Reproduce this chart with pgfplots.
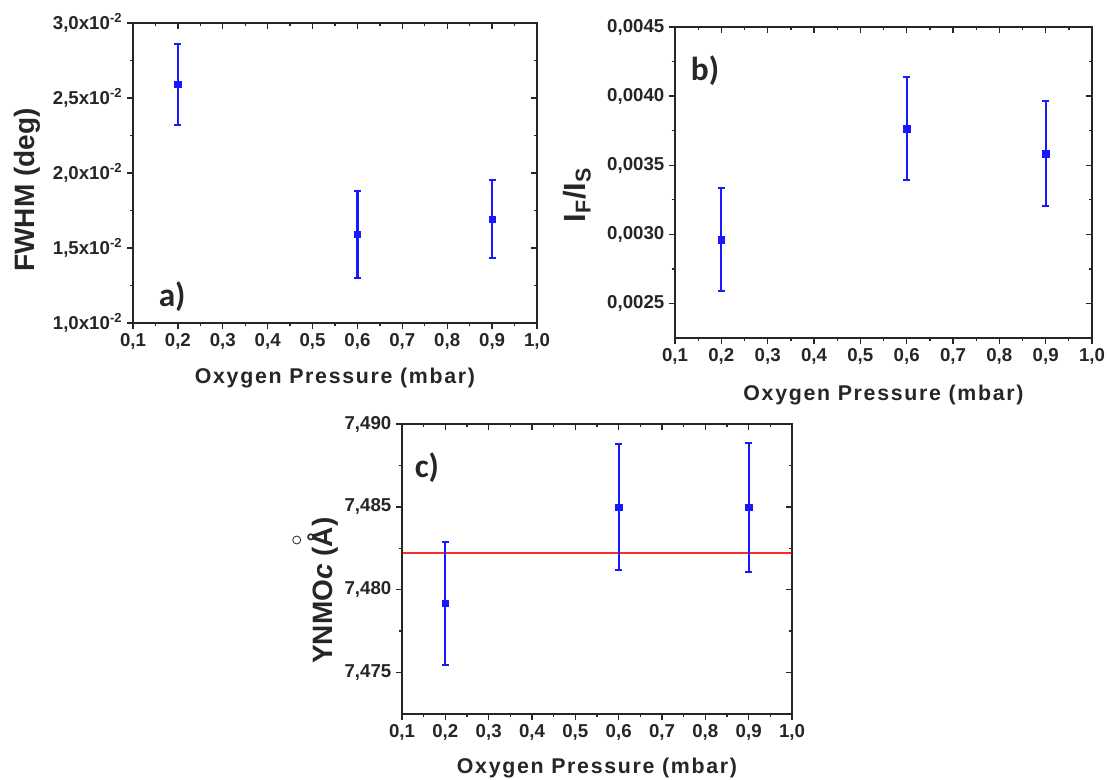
\documentclass[border=0pt]{standalone}
\usepackage{fontspec}
\setmainfont{Liberation Sans}
\newfontfamily\calib{Carlito}
\usepackage{pgfplots}
\pgfplotsset{compat=1.18}
\definecolor{eb}{RGB}{25,25,255}
\definecolor{rl}{RGB}{255,40,40}
\pgfplotsset{
  common/.style={scale only axis, anchor=south west,
    xmin=0.1, xmax=1.0,
    xtick={0.1,0.2,0.3,0.4,0.5,0.6,0.7,0.8,0.9,1.0},
    minor x tick num=1, minor y tick num=1,
    scaled ticks=false,
    major tick length=4.5pt, minor tick length=2.5pt,
    axis line style={line width=1.1pt, black!85},
    every tick/.append style={line width=1pt, black!85},
    every minor tick/.append style={line width=1pt, black!85},
  },
  lowerleft/.style={common, xtick pos=left, ytick pos=left, tick align=outside,
    ticklabel style={font=\bfseries\fontsize{14}{14}\selectfont, black!85},
    /pgf/number format/assume math mode=true,
    xticklabels={{0,1},{0,2},{0,3},{0,4},{0,5},{0,6},{0,7},{0,8},{0,9},{1,0}},
    xlabel={Oxygen Pressure (mbar)},
    xlabel style={font=\bfseries\fontsize{16}{16}\selectfont\addfontfeatures{LetterSpace=8}, black!85, anchor=center},
    ylabel style={font=\bfseries\fontsize{21}{21}\selectfont, black!85, anchor=center},
  },
  upperright/.style={common, xtick pos=right, ytick pos=right, tick align=inside,
    xticklabels={}, yticklabels={}},
  dat/.style={eb, mark=square*, mark size=2.4pt, only marks,
    error bars/.cd, y dir=both, y explicit, error mark=|,
    error bar style={line width=1.6pt, eb},
    error mark options={eb, line width=1.5pt, mark size=2.7pt}},
}
\begin{document}
\begin{tikzpicture}
\useasboundingbox (0pt,0pt) rectangle (832.5pt,-585pt);
% ---------------- panel a
\begin{axis}[lowerleft, at={(99.75pt,-242.25pt)}, width=303pt, height=225pt,
  ymin=1, ymax=3, ytick={1,1.5,2,2.5,3},
  yticklabels={{1,0x10\textsuperscript{-2}},{1,5x10\textsuperscript{-2}},{2,0x10\textsuperscript{-2}},{2,5x10\textsuperscript{-2}},{3,0x10\textsuperscript{-2}}},
  xlabel style={at={(axis description cs:0.5,-0.183)}},
  ylabel={FWHM (deg)},
  ylabel style={at={(axis description cs:-0.262,0.443)}}]
\addplot[dat] coordinates {(0.2,2.59) +- (0,0.27) (0.6,1.59) +- (0,0.29) (0.9,1.69) +- (0,0.26)};
\node[font=\calib\bfseries\fontsize{25}{25}\selectfont, black!85] at (rel axis cs:0.097,0.087) {a)};
\end{axis}
\begin{axis}[upperright, at={(99.75pt,-242.25pt)}, width=303pt, height=225pt,
  ymin=1, ymax=3, ytick={1,1.5,2,2.5,3}]
\end{axis}
% ---------------- panel b
\begin{axis}[lowerleft, at={(506.25pt,-253.5pt)}, width=312.75pt, height=233.25pt,
  ymin=0.00225, ymax=0.0045, ytick={0.0025,0.003,0.0035,0.004,0.0045},
  yticklabels={{0,0025},{0,0030},{0,0035},{0,0040},{0,0045}},
  xlabel style={at={(axis description cs:0.5,-0.183)}},
  ylabel={I\textsubscript{F}/I\textsubscript{S}},
  ylabel style={at={(axis description cs:-0.235,0.46)}, font=\bfseries\fontsize{23}{23}\selectfont}]
\addplot[dat] coordinates {(0.2,0.002962) +- (0,0.000374) (0.6,0.003765) +- (0,0.000375) (0.9,0.003583) +- (0,0.000379)};
\node[font=\calib\bfseries\fontsize{25}{25}\selectfont, black!85] at (rel axis cs:0.072,0.86) {b)};
\end{axis}
\begin{axis}[upperright, at={(506.25pt,-253.5pt)}, width=312.75pt, height=233.25pt,
  ymin=0.00225, ymax=0.0045, ytick={0.0025,0.003,0.0035,0.004,0.0045}]
\end{axis}
% ---------------- panel c
\begin{axis}[lowerleft, at={(301.5pt,-535.5pt)}, width=292.5pt, height=217.5pt,
  clip=false,
  ymin=7.4725, ymax=7.49, ytick={7.475,7.48,7.485,7.49},
  yticklabels={{7,475},{7,480},{7,485},{7,490}},
  xlabel style={at={(axis description cs:0.5,-0.186)}},
  ylabel={YNMO\textit{c} (Å)},
  ylabel style={at={(axis description cs:-0.203,0.425)}}]
\addplot[rl, line width=1.3pt, forget plot] coordinates {(0.1,7.48222) (1.0,7.48222)};
\addplot[dat] coordinates {(0.2,7.47917) +- (0,0.0037) (0.6,7.48497) +- (0,0.0038) (0.9,7.48497) +- (0,0.0039)};
\node[font=\calib\bfseries\fontsize{25}{25}\selectfont, black!85] at (rel axis cs:0.064,0.85) {c)};
\node[circle, draw=black!85, fill=white, line width=0.6pt, inner sep=0pt, minimum size=6pt] at (rel axis cs:-0.27,0.6) {};
\end{axis}
\begin{axis}[upperright, at={(301.5pt,-535.5pt)}, width=292.5pt, height=217.5pt,
  ymin=7.4725, ymax=7.49, ytick={7.475,7.48,7.485,7.49}]
\end{axis}
\end{tikzpicture}
\end{document}
